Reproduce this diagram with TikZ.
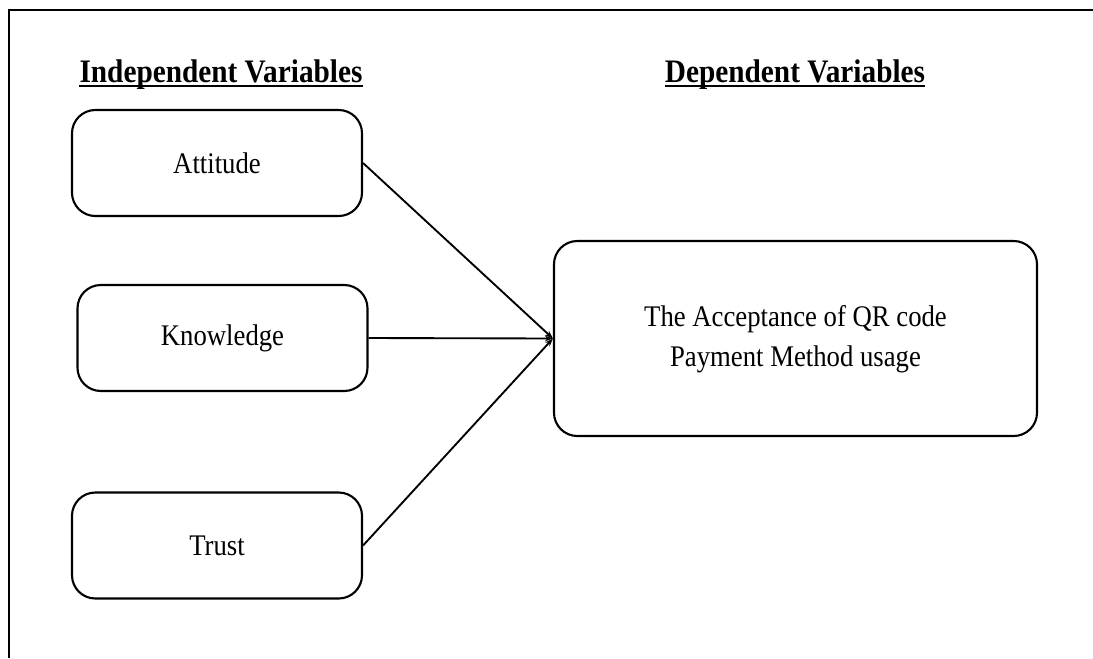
\documentclass[tikz,border=0pt]{standalone}
\usepackage{fontspec}
\setmainfont{Liberation Serif}
\usepackage{tikz}
\usetikzlibrary{positioning,shapes,arrows.meta}

% taller letters, as in the scanned figure
\newcommand{\tallText}[1]{\scalebox{1}[1.12]{#1}}

\begin{document}
\begin{tikzpicture}[x=0.03cm, y=-0.03cm, >={Stealth[length=7pt,width=5pt]},
    varbox/.style={draw, rounded corners=0.7cm, line width=1.8pt,
        minimum width=8.7cm, minimum height=3.18cm,
        font=\fontsize{22.8}{31}\selectfont},
    headtext/.style={inner sep=0pt, anchor=base,
        font=\fontsize{25}{30}\selectfont\bfseries},
    link/.style={->, line width=1.6pt}]
    \useasboundingbox (0,0) rectangle (1093,658);
    % frame
    \draw[line width=1.6pt] (1093,10) -- (9,10) -- (9,658);

    % headings
    \node[headtext] (ivhead) at (221,82) {\tallText{Independent Variables}};
    \node[headtext] (dvhead) at (795,82) {\tallText{Dependent Variables}};
    \draw[line width=1.6pt] ([yshift=-0.11cm]ivhead.base west) -- ([yshift=-0.11cm]ivhead.base east);
    \draw[line width=1.6pt] ([yshift=-0.11cm]dvhead.base west) -- ([yshift=-0.11cm]dvhead.base east);

    % variables
    \node[varbox] (attitude) at (217,163) {\tallText{Attitude}};
    \node[varbox] (knowledge) at (222.5,338) {\tallText{Knowledge}};
    \node[varbox] (trust) at (217,545.5) {\tallText{Trust}};
    \node[varbox, minimum width=14.49cm, minimum height=5.85cm] (accept) at (795.5,338.5)
        {\tallText{\begin{tabular}{@{}c@{}}The Acceptance of QR code\\Payment Method usage\end{tabular}}};

    \draw[link] (attitude.east) -- (accept.west);
    \draw[link] (knowledge.east) -- (accept.west);
    \draw[link] (trust.east) -- (accept.west);
\end{tikzpicture}
\end{document}
